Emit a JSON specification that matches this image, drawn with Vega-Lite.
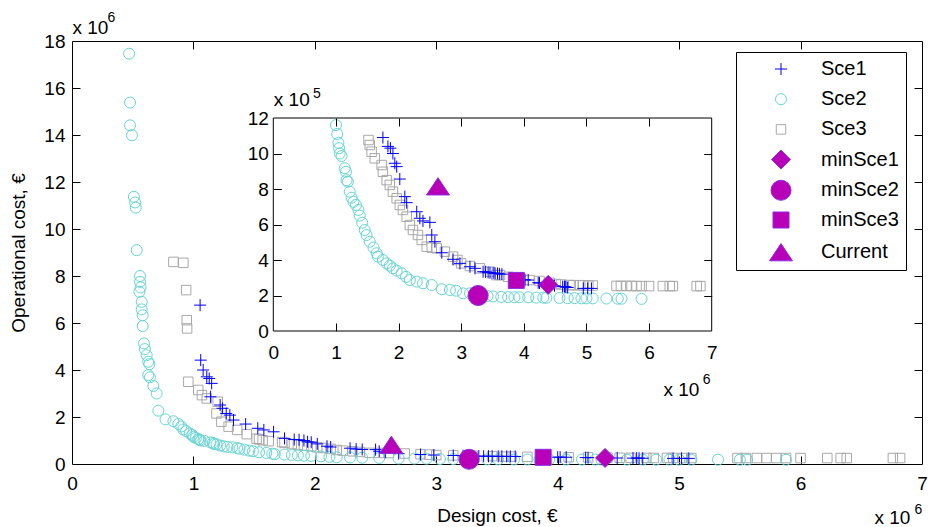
{
  "$schema": "https://vega.github.io/schema/vega-lite/v6.json",
  "width": 850,
  "height": 423,
  "autosize": {"type": "none"},
  "padding": {"left": 72, "top": 41, "right": 9, "bottom": 63},
  "background": "white",
  "config": {
    "view": {"stroke": "black", "strokeWidth": 1},
    "axis": {
      "grid": false,
      "domain": false,
      "labelFont": "Liberation Sans",
      "labelFontSize": 19,
      "labelColor": "black",
      "titleFont": "Liberation Sans",
      "titleFontSize": 19,
      "titleFontWeight": "normal",
      "titleColor": "black",
      "tickColor": "black",
      "tickWidth": 1,
      "labelFlush": false,
      "labelOverlap": false
    },
    "legend": {
      "orient": "none",
      "legendX": 664,
      "legendY": 11,
      "padding": 7,
      "strokeColor": "black",
      "fillColor": "white",
      "labelFont": "Liberation Sans",
      "labelFontSize": 20,
      "labelColor": "black",
      "labelOffset": 28,
      "symbolOffset": 26,
      "gridAlign": "all",
      "rowPadding": 5.2,
      "symbolStrokeWidth": 1,
      "cornerRadius": 0
    }
  },
  "data": {
    "name": "pts",
    "values": [
      {"s": "Sce3", "x": 835000, "y": 8600000},
      {"s": "Sce3", "x": 917000, "y": 8560000},
      {"s": "Sce3", "x": 940000, "y": 7400000},
      {"s": "Sce3", "x": 945000, "y": 6120000},
      {"s": "Sce3", "x": 948000, "y": 5770000},
      {"s": "Sce3", "x": 958000, "y": 3500000},
      {"s": "Sce3", "x": 1040000, "y": 3150000},
      {"s": "Sce3", "x": 1070000, "y": 2930000},
      {"s": "Sce3", "x": 1110000, "y": 2790000},
      {"s": "Sce3", "x": 1200000, "y": 2650000},
      {"s": "Sce3", "x": 1190000, "y": 2150000},
      {"s": "Sce3", "x": 1230000, "y": 1800000},
      {"s": "Sce3", "x": 1290000, "y": 1590000},
      {"s": "Sce3", "x": 1360000, "y": 1450000},
      {"s": "Sce3", "x": 1440000, "y": 1270000},
      {"s": "Sce3", "x": 1520000, "y": 1076000},
      {"s": "Sce3", "x": 1540000, "y": 1048000},
      {"s": "Sce3", "x": 1570000, "y": 1010000},
      {"s": "Sce3", "x": 1620000, "y": 973000},
      {"s": "Sce3", "x": 1730000, "y": 935000},
      {"s": "Sce3", "x": 1750000, "y": 897000},
      {"s": "Sce3", "x": 1810000, "y": 850000},
      {"s": "Sce3", "x": 1860000, "y": 823000},
      {"s": "Sce3", "x": 1910000, "y": 785000},
      {"s": "Sce3", "x": 1970000, "y": 748000},
      {"s": "Sce3", "x": 2020000, "y": 710000},
      {"s": "Sce3", "x": 2070000, "y": 682000},
      {"s": "Sce3", "x": 2130000, "y": 644000},
      {"s": "Sce3", "x": 2180000, "y": 597000},
      {"s": "Sce3", "x": 2230000, "y": 569000},
      {"s": "Sce3", "x": 2310000, "y": 541000},
      {"s": "Sce3", "x": 2370000, "y": 513000},
      {"s": "Sce3", "x": 2450000, "y": 475000},
      {"s": "Sce3", "x": 2530000, "y": 470000},
      {"s": "Sce3", "x": 2610000, "y": 466000},
      {"s": "Sce3", "x": 2740000, "y": 447000},
      {"s": "Sce3", "x": 2870000, "y": 419000},
      {"s": "Sce3", "x": 2940000, "y": 400000},
      {"s": "Sce3", "x": 3000000, "y": 381000},
      {"s": "Sce3", "x": 3140000, "y": 366000},
      {"s": "Sce3", "x": 3300000, "y": 353000},
      {"s": "Sce3", "x": 3460000, "y": 334000},
      {"s": "Sce3", "x": 3560000, "y": 315000},
      {"s": "Sce3", "x": 3620000, "y": 315000},
      {"s": "Sce3", "x": 3750000, "y": 305000},
      {"s": "Sce3", "x": 3900000, "y": 295000},
      {"s": "Sce3", "x": 4090000, "y": 287000},
      {"s": "Sce3", "x": 4250000, "y": 282000},
      {"s": "Sce3", "x": 4410000, "y": 272000},
      {"s": "Sce3", "x": 4510000, "y": 265000},
      {"s": "Sce3", "x": 4600000, "y": 262000},
      {"s": "Sce3", "x": 4730000, "y": 259000},
      {"s": "Sce3", "x": 4790000, "y": 258000},
      {"s": "Sce3", "x": 4900000, "y": 258000},
      {"s": "Sce3", "x": 4950000, "y": 257000},
      {"s": "Sce3", "x": 5030000, "y": 256000},
      {"s": "Sce3", "x": 5100000, "y": 256000},
      {"s": "Sce3", "x": 5480000, "y": 254000},
      {"s": "Sce3", "x": 5550000, "y": 254000},
      {"s": "Sce3", "x": 5640000, "y": 254000},
      {"s": "Sce3", "x": 5720000, "y": 254000},
      {"s": "Sce3", "x": 5800000, "y": 253000},
      {"s": "Sce3", "x": 5880000, "y": 253000},
      {"s": "Sce3", "x": 6000000, "y": 253000},
      {"s": "Sce3", "x": 6220000, "y": 253000},
      {"s": "Sce3", "x": 6330000, "y": 253000},
      {"s": "Sce3", "x": 6380000, "y": 253000},
      {"s": "Sce3", "x": 6760000, "y": 253000},
      {"s": "Sce3", "x": 6820000, "y": 253000},
      {"s": "Sce2", "x": 470000, "y": 17460000},
      {"s": "Sce2", "x": 478000, "y": 15380000},
      {"s": "Sce2", "x": 478000, "y": 14410000},
      {"s": "Sce2", "x": 494000, "y": 13990000},
      {"s": "Sce2", "x": 510000, "y": 11370000},
      {"s": "Sce2", "x": 520000, "y": 11130000},
      {"s": "Sce2", "x": 525000, "y": 10910000},
      {"s": "Sce2", "x": 533000, "y": 9100000},
      {"s": "Sce2", "x": 560000, "y": 8000000},
      {"s": "Sce2", "x": 560000, "y": 7750000},
      {"s": "Sce2", "x": 565000, "y": 7510000},
      {"s": "Sce2", "x": 555000, "y": 7330000},
      {"s": "Sce2", "x": 574000, "y": 6900000},
      {"s": "Sce2", "x": 574000, "y": 6580000},
      {"s": "Sce2", "x": 582000, "y": 6330000},
      {"s": "Sce2", "x": 582000, "y": 5870000},
      {"s": "Sce2", "x": 593000, "y": 5130000},
      {"s": "Sce2", "x": 600000, "y": 4890000},
      {"s": "Sce2", "x": 615000, "y": 4630000},
      {"s": "Sce2", "x": 628000, "y": 4350000},
      {"s": "Sce2", "x": 637000, "y": 4250000},
      {"s": "Sce2", "x": 628000, "y": 3780000},
      {"s": "Sce2", "x": 642000, "y": 3690000},
      {"s": "Sce2", "x": 670000, "y": 3320000},
      {"s": "Sce2", "x": 697000, "y": 3000000},
      {"s": "Sce2", "x": 711000, "y": 2270000},
      {"s": "Sce2", "x": 770000, "y": 1900000},
      {"s": "Sce2", "x": 835000, "y": 1820000},
      {"s": "Sce2", "x": 876000, "y": 1700000},
      {"s": "Sce2", "x": 900000, "y": 1600000},
      {"s": "Sce2", "x": 917000, "y": 1470000},
      {"s": "Sce2", "x": 940000, "y": 1400000},
      {"s": "Sce2", "x": 970000, "y": 1300000},
      {"s": "Sce2", "x": 990000, "y": 1240000},
      {"s": "Sce2", "x": 1000000, "y": 1160000},
      {"s": "Sce2", "x": 1020000, "y": 1110000},
      {"s": "Sce2", "x": 1040000, "y": 1060000},
      {"s": "Sce2", "x": 1050000, "y": 1030000},
      {"s": "Sce2", "x": 1060000, "y": 1000000},
      {"s": "Sce2", "x": 1090000, "y": 986000},
      {"s": "Sce2", "x": 1140000, "y": 917000},
      {"s": "Sce2", "x": 1160000, "y": 897000},
      {"s": "Sce2", "x": 1170000, "y": 850000},
      {"s": "Sce2", "x": 1190000, "y": 841000},
      {"s": "Sce2", "x": 1220000, "y": 785000},
      {"s": "Sce2", "x": 1250000, "y": 751000},
      {"s": "Sce2", "x": 1280000, "y": 728000},
      {"s": "Sce2", "x": 1320000, "y": 710000},
      {"s": "Sce2", "x": 1360000, "y": 682000},
      {"s": "Sce2", "x": 1380000, "y": 650000},
      {"s": "Sce2", "x": 1420000, "y": 610000},
      {"s": "Sce2", "x": 1460000, "y": 569000},
      {"s": "Sce2", "x": 1490000, "y": 541000},
      {"s": "Sce2", "x": 1540000, "y": 503000},
      {"s": "Sce2", "x": 1600000, "y": 470000},
      {"s": "Sce2", "x": 1650000, "y": 438000},
      {"s": "Sce2", "x": 1670000, "y": 419000},
      {"s": "Sce2", "x": 1750000, "y": 400000},
      {"s": "Sce2", "x": 1810000, "y": 381000},
      {"s": "Sce2", "x": 1860000, "y": 368000},
      {"s": "Sce2", "x": 1910000, "y": 353000},
      {"s": "Sce2", "x": 1970000, "y": 340000},
      {"s": "Sce2", "x": 2050000, "y": 325000},
      {"s": "Sce2", "x": 2120000, "y": 305000},
      {"s": "Sce2", "x": 2180000, "y": 287000},
      {"s": "Sce2", "x": 2290000, "y": 278000},
      {"s": "Sce2", "x": 2390000, "y": 269000},
      {"s": "Sce2", "x": 2530000, "y": 259000},
      {"s": "Sce2", "x": 2690000, "y": 235000},
      {"s": "Sce2", "x": 2820000, "y": 231000},
      {"s": "Sce2", "x": 2920000, "y": 227000},
      {"s": "Sce2", "x": 3030000, "y": 212000},
      {"s": "Sce2", "x": 3140000, "y": 212000},
      {"s": "Sce2", "x": 3300000, "y": 200000},
      {"s": "Sce2", "x": 3420000, "y": 197000},
      {"s": "Sce2", "x": 3510000, "y": 195000},
      {"s": "Sce2", "x": 3640000, "y": 192000},
      {"s": "Sce2", "x": 3750000, "y": 191000},
      {"s": "Sce2", "x": 3850000, "y": 190000},
      {"s": "Sce2", "x": 3930000, "y": 190000},
      {"s": "Sce2", "x": 4070000, "y": 190000},
      {"s": "Sce2", "x": 4200000, "y": 188000},
      {"s": "Sce2", "x": 4310000, "y": 188000},
      {"s": "Sce2", "x": 4360000, "y": 187000},
      {"s": "Sce2", "x": 4570000, "y": 186000},
      {"s": "Sce2", "x": 4700000, "y": 185000},
      {"s": "Sce2", "x": 4810000, "y": 185000},
      {"s": "Sce2", "x": 4920000, "y": 184000},
      {"s": "Sce2", "x": 5000000, "y": 184000},
      {"s": "Sce2", "x": 5100000, "y": 184000},
      {"s": "Sce2", "x": 5320000, "y": 183000},
      {"s": "Sce2", "x": 5500000, "y": 182000},
      {"s": "Sce2", "x": 5560000, "y": 182000},
      {"s": "Sce2", "x": 5880000, "y": 181000},
      {"s": "Sce1", "x": 1055000, "y": 6760000},
      {"s": "Sce1", "x": 1060000, "y": 4420000},
      {"s": "Sce1", "x": 1080000, "y": 4000000},
      {"s": "Sce1", "x": 1110000, "y": 3710000},
      {"s": "Sce1", "x": 1130000, "y": 3640000},
      {"s": "Sce1", "x": 1150000, "y": 3430000},
      {"s": "Sce1", "x": 1140000, "y": 2860000},
      {"s": "Sce1", "x": 1220000, "y": 2510000},
      {"s": "Sce1", "x": 1240000, "y": 2370000},
      {"s": "Sce1", "x": 1270000, "y": 2150000},
      {"s": "Sce1", "x": 1300000, "y": 2080000},
      {"s": "Sce1", "x": 1330000, "y": 1870000},
      {"s": "Sce1", "x": 1430000, "y": 1700000},
      {"s": "Sce1", "x": 1530000, "y": 1520000},
      {"s": "Sce1", "x": 1580000, "y": 1450000},
      {"s": "Sce1", "x": 1660000, "y": 1370000},
      {"s": "Sce1", "x": 1750000, "y": 1090000},
      {"s": "Sce1", "x": 1830000, "y": 1040000},
      {"s": "Sce1", "x": 1870000, "y": 1030000},
      {"s": "Sce1", "x": 1910000, "y": 1000000},
      {"s": "Sce1", "x": 1940000, "y": 945000},
      {"s": "Sce1", "x": 1970000, "y": 926000},
      {"s": "Sce1", "x": 2020000, "y": 856000},
      {"s": "Sce1", "x": 2100000, "y": 757000},
      {"s": "Sce1", "x": 2130000, "y": 723000},
      {"s": "Sce1", "x": 2290000, "y": 672000},
      {"s": "Sce1", "x": 2340000, "y": 635000},
      {"s": "Sce1", "x": 2390000, "y": 620000},
      {"s": "Sce1", "x": 2500000, "y": 612000},
      {"s": "Sce1", "x": 2530000, "y": 541000},
      {"s": "Sce1", "x": 2580000, "y": 503000},
      {"s": "Sce1", "x": 2690000, "y": 441000},
      {"s": "Sce1", "x": 2870000, "y": 404000},
      {"s": "Sce1", "x": 2980000, "y": 381000},
      {"s": "Sce1", "x": 3140000, "y": 362000},
      {"s": "Sce1", "x": 3220000, "y": 353000},
      {"s": "Sce1", "x": 3350000, "y": 334000},
      {"s": "Sce1", "x": 3390000, "y": 333000},
      {"s": "Sce1", "x": 3430000, "y": 330000},
      {"s": "Sce1", "x": 3460000, "y": 328000},
      {"s": "Sce1", "x": 3510000, "y": 327000},
      {"s": "Sce1", "x": 3540000, "y": 325000},
      {"s": "Sce1", "x": 3580000, "y": 324000},
      {"s": "Sce1", "x": 3610000, "y": 322000},
      {"s": "Sce1", "x": 3650000, "y": 320000},
      {"s": "Sce1", "x": 4000000, "y": 290000},
      {"s": "Sce1", "x": 4020000, "y": 288000},
      {"s": "Sce1", "x": 4070000, "y": 287000},
      {"s": "Sce1", "x": 4230000, "y": 272000},
      {"s": "Sce1", "x": 4250000, "y": 270000},
      {"s": "Sce1", "x": 4490000, "y": 255000},
      {"s": "Sce1", "x": 4620000, "y": 250000},
      {"s": "Sce1", "x": 4650000, "y": 250000},
      {"s": "Sce1", "x": 4670000, "y": 248000},
      {"s": "Sce1", "x": 4700000, "y": 245000},
      {"s": "Sce1", "x": 4950000, "y": 240000},
      {"s": "Sce1", "x": 5020000, "y": 240000},
      {"s": "Sce1", "x": 5080000, "y": 240000},
      {"s": "minSce1", "x": 4390000, "y": 260000},
      {"s": "minSce2", "x": 3270000, "y": 200000},
      {"s": "minSce3", "x": 3880000, "y": 285000},
      {"s": "Current", "x": 2630000, "y": 815000}
    ]
  },
  "layer": [
    {
      "mark": {"type": "point", "opacity": 1, "strokeWidth": 1, "filled": true},
      "encoding": {
        "x": {"field": "x", "type": "quantitative",
          "scale": {"domain": [0, 7000000], "nice": false, "zero": false},
          "axis": {"orient": "bottom", "values": [0, 1000000, 2000000, 3000000, 4000000, 5000000, 6000000, 7000000],
            "labelExpr": "datum.value/1000000", "ticks": false, "labelPadding": 10,
            "title": "Design cost, €", "titleX": 425, "titleY": 57, "titleAlign": "center", "titleBaseline": "alphabetic", "titleAngle": 0}},
        "y": {"field": "y", "type": "quantitative",
          "scale": {"domain": [0, 18000000], "nice": false, "zero": false},
          "axis": {"orient": "left", "values": [0, 2000000, 4000000, 6000000, 8000000, 10000000, 12000000, 14000000, 16000000, 18000000],
            "labelExpr": "datum.value/1000000", "ticks": false, "labelPadding": 7,
            "title": "Operational cost, €", "titleX": -48, "titleY": 211.5, "titleAlign": "center", "titleBaseline": "alphabetic", "titleAngle": 270}},
        "stroke": {"field": "s", "type": "nominal",
          "scale": {"domain": ["Sce1", "Sce2", "Sce3", "minSce1", "minSce2", "minSce3", "Current"],
            "range": ["#0000FF", "#66D4D4", "#A8A8A8", "#8A2BE2", "#8A2BE2", "#8A2BE2", "#8A2BE2"]},
          "legend": {"title": null, "orient": "none", "legendX": 664, "legendY": 11}},
        "fill": {"field": "s", "type": "nominal",
          "scale": {"domain": ["Sce1", "Sce2", "Sce3", "minSce1", "minSce2", "minSce3", "Current"],
            "range": ["transparent", "transparent", "transparent", "#B800B8", "#B800B8", "#B800B8", "#B800B8"]},
          "legend": {"title": null}},
        "shape": {"field": "s", "type": "nominal",
          "scale": {"domain": ["Sce1", "Sce2", "Sce3", "minSce1", "minSce2", "minSce3", "Current"],
            "range": ["M-1,0L1,0M0,-1L0,1", "circle", "square", "diamond", "circle", "square", "M0,-0.75L1,0.75L-1,0.75Z"]},
          "legend": {"title": null}},
        "size": {"field": "s", "type": "nominal",
          "scale": {"type": "ordinal", "domain": ["Sce1", "Sce2", "Sce3", "minSce1", "minSce2", "minSce3", "Current"],
            "range": [144, 121, 90, 360, 400, 256, 529]},
          "legend": {"title": null}}
      }
    },
    {
      "data": {"values": [{}]},
      "mark": {"type": "point", "opacity": 0},
      "encoding": {
        "x": {"datum": 0, "type": "quantitative",
          "scale": {"domain": [0, 7000000], "nice": false, "zero": false},
          "axis": {"orient": "top", "values": [1000000, 2000000, 3000000, 4000000, 5000000, 6000000], "labels": false, "ticks": true, "tickSize": -8,
            "title": "x 10", "titleX": 0, "titleY": -8, "titleAlign": "left", "titleBaseline": "alphabetic", "titleAngle": 0}},
        "y": {"datum": 0, "type": "quantitative",
          "scale": {"domain": [0, 18000000], "nice": false, "zero": false},
          "axis": {"orient": "right", "values": [2000000, 4000000, 6000000, 8000000, 10000000, 12000000, 14000000, 16000000], "labels": false, "ticks": true, "tickSize": -8,
            "title": "x 10", "titleX": -48, "titleY": 482, "titleAlign": "left", "titleBaseline": "alphabetic", "titleAngle": 0}}
      }
    },
    {
      "data": {"values": [{}]},
      "mark": {"type": "point", "opacity": 0},
      "encoding": {
        "x": {"datum": 0, "type": "quantitative",
          "scale": {"domain": [0, 7000000], "nice": false, "zero": false},
          "axis": {"orient": "bottom", "values": [1000000, 2000000, 3000000, 4000000, 5000000, 6000000], "labels": false, "ticks": true, "tickSize": -8,
            "title": "6", "titleFontSize": 14, "titleX": 842, "titleY": 49, "titleAlign": "left", "titleBaseline": "alphabetic", "titleAngle": 0}},
        "y": {"datum": 0, "type": "quantitative",
          "scale": {"domain": [0, 18000000], "nice": false, "zero": false},
          "axis": {"orient": "left", "values": [2000000, 4000000, 6000000, 8000000, 10000000, 12000000, 14000000, 16000000], "labels": false, "ticks": true, "tickSize": -8,
            "title": "6", "titleFontSize": 14, "titleX": 35, "titleY": -20, "titleAlign": "left", "titleBaseline": "alphabetic", "titleAngle": 0}}
      }
    },
    {
      "data": {"values": [{}]},
      "mark": {"type": "rect", "fill": "white", "stroke": "black", "strokeWidth": 1},
      "encoding": {
        "x": {"datum": 0, "type": "quantitative",
          "scale": {"domain": [0, 7000000], "range": [201.3, 639.7], "nice": false, "zero": false}, "axis": null},
        "x2": {"datum": 7000000},
        "y": {"datum": 0, "type": "quantitative",
          "scale": {"domain": [0, 1200000], "range": [290, 77], "nice": false, "zero": false}, "axis": null},
        "y2": {"datum": 1200000}
      }
    },
    {
      "transform": [{"filter": "datum.y <= 1200000"}],
      "mark": {"type": "point", "opacity": 1, "strokeWidth": 1, "filled": true},
      "encoding": {
        "x": {"field": "x", "type": "quantitative",
          "scale": {"domain": [0, 7000000], "range": [201.3, 639.7], "nice": false, "zero": false},
          "axis": {"orient": "bottom", "offset": -133, "values": [0, 1000000, 2000000, 3000000, 4000000, 5000000, 6000000, 7000000],
            "labelExpr": "datum.value/1000000", "ticks": false, "labelPadding": 12,
            "title": "x 10", "titleX": 591, "titleY": 64, "titleAlign": "left", "titleBaseline": "alphabetic", "titleAngle": 0}},
        "y": {"field": "y", "type": "quantitative",
          "scale": {"domain": [0, 1200000], "range": [290, 77], "nice": false, "zero": false},
          "axis": {"orient": "left", "offset": -201.3, "values": [0, 200000, 400000, 600000, 800000, 1000000, 1200000],
            "labelExpr": "datum.value/100000", "ticks": false, "labelPadding": 5,
            "title": "x 10", "titleX": 0, "titleY": 64, "titleAlign": "left", "titleBaseline": "alphabetic", "titleAngle": 0}},
        "stroke": {"field": "s", "type": "nominal",
          "scale": {"domain": ["Sce1", "Sce2", "Sce3", "minSce1", "minSce2", "minSce3", "Current"],
            "range": ["#0000FF", "#66D4D4", "#A8A8A8", "#8A2BE2", "#8A2BE2", "#8A2BE2", "#8A2BE2"]},
          "legend": {"title": null, "orient": "none", "legendX": 664, "legendY": 11}},
        "fill": {"field": "s", "type": "nominal",
          "scale": {"domain": ["Sce1", "Sce2", "Sce3", "minSce1", "minSce2", "minSce3", "Current"],
            "range": ["transparent", "transparent", "transparent", "#B800B8", "#B800B8", "#B800B8", "#B800B8"]},
          "legend": {"title": null}},
        "shape": {"field": "s", "type": "nominal",
          "scale": {"domain": ["Sce1", "Sce2", "Sce3", "minSce1", "minSce2", "minSce3", "Current"],
            "range": ["M-1,0L1,0M0,-1L0,1", "circle", "square", "diamond", "circle", "square", "M0,-0.75L1,0.75L-1,0.75Z"]},
          "legend": {"title": null}},
        "size": {"field": "s", "type": "nominal",
          "scale": {"type": "ordinal", "domain": ["Sce1", "Sce2", "Sce3", "minSce1", "minSce2", "minSce3", "Current"],
            "range": [144, 121, 90, 360, 400, 256, 529]},
          "legend": {"title": null}}
      }
    },
    {
      "data": {"values": [{}]},
      "mark": {"type": "point", "opacity": 0},
      "encoding": {
        "x": {"datum": 0, "type": "quantitative",
          "scale": {"domain": [0, 7000000], "range": [201.3, 639.7], "nice": false, "zero": false},
          "axis": {"orient": "top", "offset": -77, "zindex": 1, "values": [1000000, 2000000, 3000000, 4000000, 5000000, 6000000], "labels": false, "ticks": true, "tickSize": -8,
            "title": "6", "titleFontSize": 14, "titleX": 630.3, "titleY": 265, "titleAlign": "left", "titleBaseline": "alphabetic", "titleAngle": 0}},
        "y": {"datum": 0, "type": "quantitative",
          "scale": {"domain": [0, 1200000], "range": [290, 77], "nice": false, "zero": false},
          "axis": {"orient": "right", "offset": -210.3, "zindex": 1, "values": [200000, 400000, 600000, 800000, 1000000], "labels": false, "ticks": true, "tickSize": -8,
            "title": "5", "titleFontSize": 14, "titleX": -399.3, "titleY": 56, "titleAlign": "left", "titleBaseline": "alphabetic", "titleAngle": 0}}
      }
    },
    {
      "data": {"values": [{}]},
      "mark": {"type": "point", "opacity": 0},
      "encoding": {
        "x": {"datum": 0, "type": "quantitative",
          "scale": {"domain": [0, 7000000], "range": [201.3, 639.7], "nice": false, "zero": false},
          "axis": {"orient": "bottom", "offset": -133, "zindex": 1, "values": [1000000, 2000000, 3000000, 4000000, 5000000, 6000000], "labels": false, "ticks": true, "tickSize": -8, "title": null}},
        "y": {"datum": 0, "type": "quantitative",
          "scale": {"domain": [0, 1200000], "range": [290, 77], "nice": false, "zero": false},
          "axis": {"orient": "left", "offset": -201.3, "zindex": 1, "values": [200000, 400000, 600000, 800000, 1000000], "labels": false, "ticks": true, "tickSize": -8, "title": null}}
      }
    }
  ],
  "resolve": {
    "scale": {"x": "independent", "y": "independent"},
    "axis": {"x": "independent", "y": "independent"}
  }
}
